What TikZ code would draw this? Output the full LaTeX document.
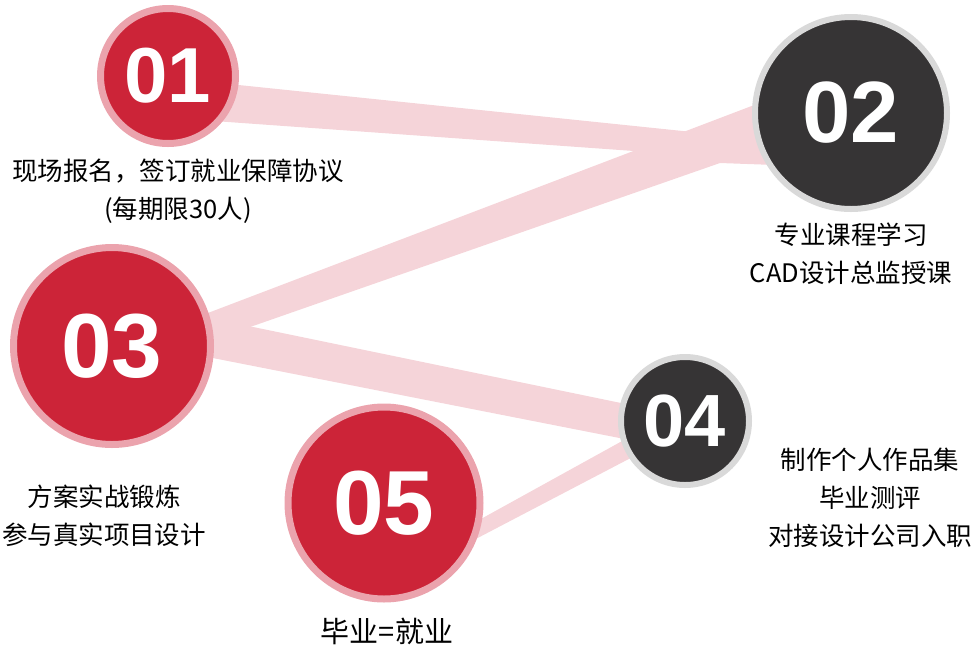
\documentclass[tikz,border=0pt]{standalone}
\usepackage{fontspec}
\setmainfont{Noto Sans CJK SC}
\newfontfamily\numfont{Liberation Sans}
\definecolor{ballred}{HTML}{CC2438}
\definecolor{ringpink}{HTML}{EBA3AD}
\definecolor{balldark}{HTML}{363435}
\definecolor{ringgray}{HTML}{D9D9D9}
\definecolor{bandpink}{HTML}{F5D4D9}
\begin{document}
\begin{tikzpicture}[x=1pt,y=-1pt,
  band/.style={fill=bandpink},
  redball/.style={circle, fill=ballred, draw=ringpink, line width=7pt, text=white},
  darkball/.style={circle, fill=balldark, draw=ringgray, line width=6pt, text=white},
  num/.style={font=\numfont\bfseries\fontsize{#1}{#1}\selectfont},
  caption/.style={align=center, font=\fontsize{25.5}{38}\selectfont}]
\useasboundingbox (0,0) rectangle (975,649);
\coordinate (p1) at (168,76);
\coordinate (p2) at (851,113);
\coordinate (p3) at (112,346);
\coordinate (p4) at (685,421);
\coordinate (p5) at (384,503);
\fill[band] ([shift={(32,5)}]p1) -- ([shift={(-91,26)}]p2) -- ([shift={(-91,47)}]p2) -- ([shift={(32,44)}]p1) -- cycle;
\fill[band] ([shift={(88,-30)}]p3) -- ([shift={(-81,-14)}]p2) -- ([shift={(-76,52)}]p2) -- ([shift={(-131,50)}]p2) -- ([shift={(88,-1.5)}]p3) -- cycle;
\fill[band] ([shift={(88,-30)}]p3) -- ([shift={(-35,-12)}]p4) -- ([shift={(-35,23)}]p4) -- ([shift={(88,9.5)}]p3) -- cycle;
\fill[band] ([shift={(-40,7.4)}]p4) -- ([shift={(86,22)}]p5) -- ([shift={(86,39)}]p5) -- ([shift={(-40,29.5)}]p4) -- cycle;
\node[redball, minimum size=135pt, num=78] (c1) at (p1) {01};
\node[darkball, minimum size=192pt, num=87] (c2) at (p2) {02};
\node[redball, minimum size=197pt, num=91] (c3) at (p3) {03};
\node[darkball, minimum size=128pt, num=74] (c4) at (p4) {04};
\node[redball, minimum size=192pt, num=91] (c5) at (p5) {05};
\node[caption] (t1) at (178,191) {现场报名，签订就业保障协议\\(每期限30人)};
\node[caption] (t2) at (851,254) {专业课程学习\\CAD设计总监授课};
\node[caption] (t3) at (104,516) {方案实战锻炼\\参与真实项目设计};
\node[caption] (t4) at (870,498) {制作个人作品集\\毕业测评\\对接设计公司入职};
\node[caption, font=\fontsize{29}{38}\selectfont, inner sep=1pt] (t5) at (387,631) {毕业=就业};
\end{tikzpicture}
\end{document}
